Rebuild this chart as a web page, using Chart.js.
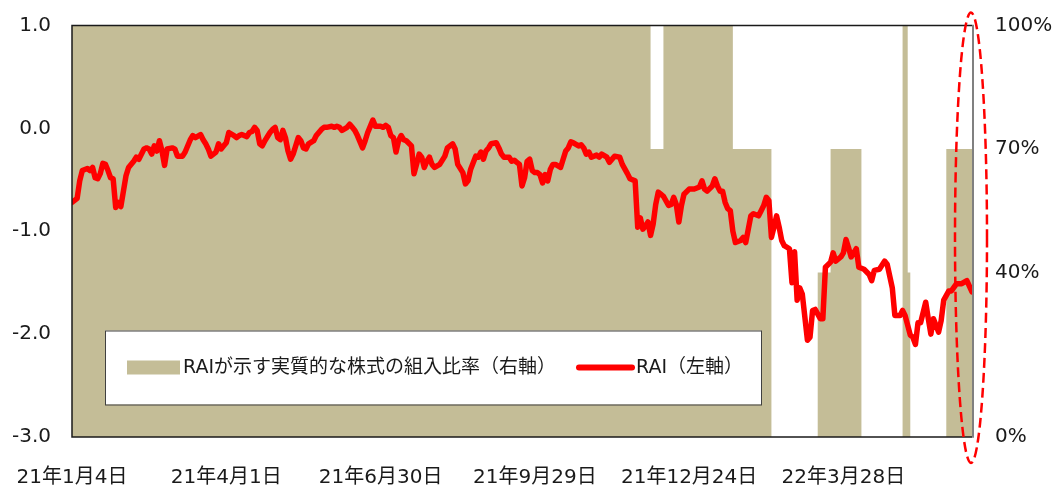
<!DOCTYPE html>
<html>
<head>
<meta charset="utf-8">
<script src="https://cdn.jsdelivr.net/npm/chart.js@4.4.1/dist/chart.umd.min.js"></script>
<style>
  html, body { margin: 0; padding: 0; background: #ffffff; }
  #wrap { width: 1054px; height: 485px; }
</style>
</head>
<body>
<div id="wrap"><canvas id="c" width="1054" height="485"></canvas></div>
<script>
// ---- Data ----
// x = trading-day index counted from 21年1月4日
const tickDays   = [0, 60, 120, 180, 240, 300];
const tickLabels = ['21年1月4日', '21年4月1日', '21年6月30日', '21年9月29日', '21年12月24日', '22年3月28日'];

const leftTicks  = [-3, -2, -1, 0, 1];
const rightTicks = [0, 40, 70, 100];

// RAI (left axis)
const raiDays = [
  0,2,3,4,6,7,8,9,10,11,12,13,14,15,16,17,18,19,20,21,22,24,25,26,28,29,30,31,32,33,34,35,36,37,39,40,
  41,43,44,46,47,48,50,51,52,53,54,56,57,58,59,60,61,63,64,65,66,68,69,70,71,72,73,74,75,77,78,79,80,
  81,82,83,84,85,86,88,89,90,91,92,94,95,97,98,99,101,102,103,104,105,107,108,109,110,111,113,114,115,
  116,117,118,120,121,122,123,124,125,126,127,128,129,130,132,133,134,135,136,137,138,139,140,141,143,
  145,146,148,149,150,152,153,154,155,157,158,159,160,161,162,163,165,166,167,168,170,171,172,173,174,
  175,176,177,178,179,180,181,182,183,184,185,186,187,188,190,191,192,193,194,195,197,198,199,200,201,
  202,204,205,206,208,209,210,211,213,214,216,217,219,220,221,222,223,224,225,226,227,228,229,230,232,
  233,234,235,236,237,238,240,242,244,245,246,247,249,250,251,252,253,254,255,256,257,258,260,261,262,
  263,264,265,267,268,269,270,271,272,273,274,275,276,277,279,280,281,282,283,284,286,287,288,289,291,
  292,293,295,296,297,299,300,301,302,303,305,306,308,310,311,312,314,316,317,319,320,322,323,324,326,
  327,328,329,330,332,333,334,335,337,338,339,341,342,344,346,348,350
];
const raiValues = [
  -0.72,-0.68,-0.51,-0.41,-0.39,-0.41,-0.38,-0.48,-0.49,-0.44,-0.34,-0.35,-0.41,-0.48,-0.49,-0.77,-0.72,-0.76,-0.61,-0.46,-0.38,-0.32,-0.28,-0.30,-0.20,-0.19,-0.20,-0.25,-0.17,-0.22,-0.12,-0.22,-0.36,-0.20,-0.19,-0.20,
  -0.27,-0.27,-0.23,-0.11,-0.07,-0.09,-0.06,-0.11,-0.15,-0.20,-0.27,-0.23,-0.15,-0.20,-0.17,-0.14,-0.04,-0.07,-0.09,-0.07,-0.06,-0.08,-0.04,-0.03,0.01,-0.02,-0.15,-0.17,-0.12,-0.04,-0.01,0.01,-0.09,
  -0.11,-0.02,-0.09,-0.22,-0.30,-0.25,-0.09,-0.12,-0.19,-0.20,-0.15,-0.12,-0.07,-0.01,0.01,0.01,0.02,0.01,0.02,0.01,-0.02,0.01,0.04,0.01,-0.02,-0.07,-0.19,-0.12,-0.04,
  0.02,0.08,0.02,0.02,0.01,0.03,0.01,-0.07,-0.09,-0.23,-0.12,-0.07,-0.11,-0.12,-0.17,-0.44,-0.35,-0.25,-0.28,-0.38,-0.32,-0.28,-0.35,-0.38,-0.35,
  -0.27,-0.19,-0.15,-0.20,-0.35,-0.43,-0.54,-0.51,-0.40,-0.27,-0.28,-0.23,-0.30,-0.22,-0.19,-0.15,-0.14,-0.19,-0.25,-0.28,-0.28,-0.32,-0.31,-0.33,-0.35,
  -0.56,-0.48,-0.32,-0.30,-0.41,-0.43,-0.43,-0.45,-0.53,-0.45,-0.51,-0.40,-0.35,-0.35,-0.38,-0.30,-0.22,-0.19,-0.13,-0.14,-0.17,-0.16,-0.19,-0.25,-0.23,
  -0.28,-0.26,-0.28,-0.25,-0.28,-0.33,-0.30,-0.27,-0.28,-0.35,-0.44,-0.49,-0.51,-0.96,-0.87,-0.98,-0.95,-0.91,-1.04,-0.93,-0.74,-0.62,-0.64,-0.66,-0.75,
  -0.74,-0.67,-0.74,-0.91,-0.75,-0.64,-0.59,-0.59,-0.57,-0.51,-0.59,-0.61,-0.56,-0.49,-0.56,-0.61,-0.61,-0.72,-0.78,-0.80,-1.00,-1.11,-1.09,-1.06,-1.11,
  -0.98,-0.85,-0.83,-0.85,-0.80,-0.75,-0.67,-0.70,-1.06,-0.96,-0.85,-0.96,-1.09,-1.14,-1.17,-1.50,-1.20,-1.67,-1.55,-1.61,-2.06,-2.03,-1.77,-1.76,-1.85,
  -1.85,-1.35,-1.30,-1.21,-1.29,-1.25,-1.21,-1.08,-1.16,-1.25,-1.17,-1.35,-1.37,-1.42,-1.48,-1.38,-1.37,-1.29,-1.32,-1.55,-1.82,-1.82,-1.77,-1.82,-2.01,
  -2.03,-2.10,-1.89,-1.89,-1.69,-1.85,-2.00,-1.85,-1.98,-1.87,-1.67,-1.58,-1.58,-1.51,-1.51,-1.48,-1.59
];

// Effective equity ratio (right axis, %), value holds from each day until the next change
const ratioDays   = [0, 225, 230, 257, 272, 290, 295, 307, 323, 325, 326, 340, 350];
const ratioValues = [100, 70, 100, 70, 0, 40, 70, 0, 100, 40, 0, 70, 70];

const seriesNames = ['RAIが示す実質的な株式の組入比率（右軸）', 'RAI（左軸）'];

// ---- Styling ----
const BEIGE = '#C4BD97';
const RED = '#FF0000';
const TEXT = '#1a1a1a';
const FONT = "'DejaVu Sans', 'Noto Sans CJK JP', sans-serif";

const framePlugin = {
  id: 'frame',
  afterDatasetsDraw(chart) {
    const { ctx, chartArea: a } = chart;
    ctx.save();
    ctx.strokeStyle = '#1a1a1a';
    ctx.lineWidth = 1.5;
    ctx.beginPath();
    ctx.moveTo(a.right, a.top);
    ctx.lineTo(a.left, a.top);
    ctx.lineTo(a.left, a.bottom);
    ctx.lineTo(a.right, a.bottom);
    ctx.stroke();
    ctx.strokeStyle = '#808080';
    ctx.lineWidth = 2;
    ctx.beginPath();
    ctx.moveTo(a.right + 1, a.top - 0.75);
    ctx.lineTo(a.right + 1, a.bottom + 0.75);
    ctx.stroke();
    ctx.restore();
  }
};

const legendPlugin = {
  id: 'boxLegend',
  afterDraw(chart) {
    const { ctx, chartArea: a } = chart;
    const bx = a.left + 33, by = a.top + 305, bw = 656, bh = 74;
    const cy = by + bh / 2;
    ctx.save();
    ctx.fillStyle = '#ffffff';
    ctx.fillRect(bx, by, bw, bh);
    ctx.strokeStyle = '#404040';
    ctx.lineWidth = 1;
    ctx.strokeRect(bx + 0.5, by + 0.5, bw, bh);
    // beige swatch
    ctx.fillStyle = chart.data.datasets[1].backgroundColor;
    ctx.fillRect(bx + 22, cy - 7, 53, 14);
    ctx.font = "19px " + FONT;
    ctx.fillStyle = TEXT;
    ctx.textBaseline = 'middle';
    ctx.textAlign = 'left';
    ctx.fillText(chart.data.datasets[1].label, bx + 78, cy + 1);
    // red line swatch
    ctx.strokeStyle = chart.data.datasets[0].borderColor;
    ctx.lineWidth = 6;
    ctx.lineCap = 'round';
    ctx.beginPath();
    ctx.moveTo(bx + 474, cy);
    ctx.lineTo(bx + 527, cy);
    ctx.stroke();
    ctx.fillText(chart.data.datasets[0].label, bx + 531, cy + 1);
    ctx.restore();
  }
};

const ellipsePlugin = {
  id: 'ellipseMark',
  afterDraw(chart) {
    const { ctx, chartArea: a } = chart;
    const xs = chart.scales.x;
    const cx = xs.getPixelForValue(raiDays[raiDays.length - 1]) - 1;
    const top = a.top - 13, bottom = a.bottom + 26;
    ctx.save();
    ctx.strokeStyle = RED;
    ctx.lineWidth = 2.5;
    ctx.setLineDash([10, 5]);
    ctx.beginPath();
    ctx.ellipse(cx, (top + bottom) / 2, 16, (bottom - top) / 2, 0, 0, Math.PI * 2);
    ctx.stroke();
    ctx.restore();
  }
};

function noPad(s) {
  s.paddingLeft = 0; s.paddingRight = 0; s.paddingTop = 0; s.paddingBottom = 0;
}

new Chart(document.getElementById('c'), {
  type: 'line',
  data: {
    datasets: [
      {
        label: seriesNames[1],
        data: raiDays.map((d, i) => ({ x: d, y: raiValues[i] })),
        yAxisID: 'y',
        borderColor: RED,
        borderWidth: 5.5,
        borderJoinStyle: 'round',
        borderCapStyle: 'round',
        pointRadius: 0,
        tension: 0,
        fill: false
      },
      {
        label: seriesNames[0],
        data: ratioDays.map((d, i) => ({ x: d, y: ratioValues[i] })),
        yAxisID: 'y1',
        stepped: 'before',
        fill: 'origin',
        backgroundColor: BEIGE,
        borderColor: 'rgba(0,0,0,0)',
        borderWidth: 0,
        pointRadius: 0
      }
    ]
  },
  options: {
    responsive: false,
    animation: false,
    devicePixelRatio: 1,
    layout: { padding: { top: 25.5, left: 0, right: 0, bottom: 0 } },
    plugins: { legend: { display: false }, tooltip: { enabled: false } },
    scales: {
      x: {
        type: 'linear',
        min: 0,
        max: 350,
        afterBuildTicks: s => { s.ticks = tickDays.map(v => ({ value: v })); },
        afterFit: s => { s.height = 48; noPad(s); },
        grid: { display: false, drawTicks: false },
        border: { display: false },
        ticks: {
          autoSkip: false,
          maxRotation: 0,
          padding: 29,
          color: TEXT,
          font: { family: FONT, size: 20 },
          callback: (v, i) => tickLabels[i]
        }
      },
      y: {
        position: 'left',
        min: -3,
        max: 1,
        afterBuildTicks: s => { s.ticks = leftTicks.map(v => ({ value: v })); },
        afterFit: s => { s.width = 72; noPad(s); },
        grid: { display: false, drawTicks: false },
        border: { display: false },
        ticks: {
          padding: 21,
          color: TEXT,
          font: { family: FONT, size: 20 },
          callback: v => v.toFixed(1)
        }
      },
      y1: {
        position: 'right',
        min: 0,
        max: 100,
        afterBuildTicks: s => { s.ticks = rightTicks.map(v => ({ value: v })); },
        afterFit: s => { s.width = 82; noPad(s); },
        grid: { display: false, drawTicks: false },
        border: { display: false },
        ticks: {
          padding: 23,
          color: TEXT,
          font: { family: FONT, size: 20 },
          callback: v => v + '%'
        }
      }
    }
  },
  plugins: [framePlugin, legendPlugin, ellipsePlugin]
});
</script>
</body>
</html>
